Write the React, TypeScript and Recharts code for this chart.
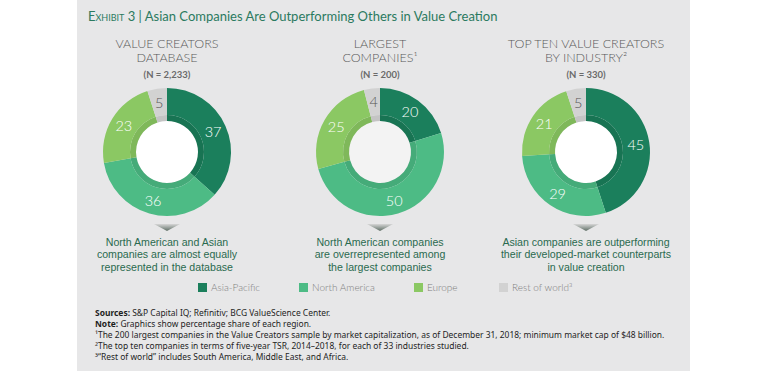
import React from 'react';
import { PieChart, Pie, Cell } from 'recharts';

// Region order, clockwise from 12 o'clock
const regions = ['Asia-Pacific', 'North America', 'Europe', 'Rest of world³'];
const valueCreators = [37, 36, 23, 5];
const largestCompanies = [20, 50, 25, 4];
const topTenByIndustry = [45, 29, 21, 5];

const panelTitles = [
  ['VALUE CREATORS', 'DATABASE'],
  ['LARGEST', 'COMPANIES¹'],
  ['TOP TEN VALUE CREATORS', 'BY INDUSTRY²'],
];
const sampleSizes = ['(N = 2,233)', '(N = 200)', '(N = 330)'];
const takeaways = [
  ['North American and Asian', 'companies are almost equally', 'represented in the database'],
  ['North American companies', 'are overrepresented among', 'the largest companies'],
  ['Asian companies are outperforming', 'their developed-market counterparts', 'in value creation'],
];
const footnotes = [
  '¹The 200 largest companies in the Value Creators sample by market capitalization, as of December 31, 2018; minimum market cap of $48 billion.',
  '²The top ten companies in terms of five-year TSR, 2014–2018, for each of 33 industries studied.',
  '³“Rest of world” includes South America, Middle East, and Africa.',
];

const COLORS = ['#1b7f5c', '#4dbb85', '#8bc863', '#d2d2d2'];
const INNER_COLORS = ['#187453', '#45ab79', '#7fb85a', '#c4c4c4'];
const CENTERS = [167, 380, 586];
const LEGEND_X = [198, 299, 414, 499];
const CY = 152;
const RADIAN = Math.PI / 180;

const toRows = (values: number[]) => values.map((v, i) => ({ name: regions[i], value: v }));
const donuts = [valueCreators, largestCompanies, topTenByIndustry].map(toRows);

const renderLabel = (props: any) => {
  const { cx, cy, midAngle, value, index } = props;
  const r = 50.5;
  const x = cx + r * Math.cos(-midAngle * RADIAN);
  const y = cy + r * Math.sin(-midAngle * RADIAN);
  return (
    <text
      x={x}
      y={y}
      textAnchor="middle"
      dominantBaseline="central"
      fontFamily="Lato"
      fontWeight={300}
      fontSize={14.5}
      fill={index === 3 ? '#555' : '#fff'}
    >
      {value}
    </text>
  );
};

export default function App() {
  return (
    <div style={{ position: 'absolute', left: 0, top: 0, width: 768, height: 371, background: '#fff', overflow: 'hidden' }}>
      <div style={{ position: 'absolute', left: 77, top: 0, width: 613, height: 371, background: '#e7e7e8' }} />

      {/* exhibit title */}
      <div style={{ position: 'absolute', left: 88, top: 8, fontFamily: 'Lato', fontSize: 13, color: '#2b7a5f', whiteSpace: 'nowrap' }}>
        <span style={{ fontVariant: 'small-caps' }}>Exhibit 3</span> | Asian Companies Are Outperforming Others in Value Creation
      </div>

      {CENTERS.map((cx, i) => (
        <React.Fragment key={i}>
          <div style={{ position: 'absolute', left: cx - 130, width: 260, top: 37, textAlign: 'center', fontFamily: 'Lato', fontWeight: 300, fontSize: 12.5, lineHeight: '14px', color: '#5a5a5a' }}>
            {panelTitles[i][0]}<br />{panelTitles[i][1]}
          </div>
          <div style={{ position: 'absolute', left: cx - 100, width: 200, top: 69, textAlign: 'center', fontFamily: 'Lato', fontWeight: 700, fontSize: 9.5, color: '#6a6a6a' }}>
            {sampleSizes[i]}
          </div>
          <div style={{ position: 'absolute', left: cx - 31, top: CY - 31, width: 62, height: 62, borderRadius: '50%', background: i === 1 ? '#f3f3f3' : '#fff' }} />
          <div style={{ position: 'absolute', left: cx - 13, top: 224, width: 26, height: 7, clipPath: 'polygon(0 0, 100% 0, 50% 100%)', background: 'linear-gradient(#d6d6d6, #5f6f66)' }} />
          <div style={{ position: 'absolute', left: cx - 110, width: 220, top: 236, textAlign: 'center', fontFamily: 'Liberation Sans', fontWeight: 400, fontSize: 10.6, lineHeight: '12.3px', color: '#2a6a4f' }}>
            {takeaways[i].map((l, j) => <div key={j}>{l}</div>)}
          </div>
        </React.Fragment>
      ))}

      <div style={{ position: 'absolute', left: 0, top: 0 }}>
        <PieChart width={768} height={371} margin={{ top: 0, right: 0, bottom: 0, left: 0 }}>
          {donuts.map((rows, i) => (
            <Pie
              key={'ring' + i}
              data={rows}
              dataKey="value"
              cx={CENTERS[i]}
              cy={CY}
              innerRadius={31}
              outerRadius={37}
              startAngle={90}
              endAngle={-270}
              stroke="none"
              isAnimationActive={false}
            >
              {rows.map((_, j) => <Cell key={j} fill={INNER_COLORS[j]} />)}
            </Pie>
          ))}
          {donuts.map((rows, i) => (
            <Pie
              key={'main' + i}
              data={rows}
              dataKey="value"
              cx={CENTERS[i]}
              cy={CY}
              innerRadius={37}
              outerRadius={64}
              startAngle={90}
              endAngle={-270}
              stroke="none"
              label={renderLabel}
              labelLine={false}
              isAnimationActive={false}
            >
              {rows.map((_, j) => <Cell key={j} fill={COLORS[j]} />)}
            </Pie>
          ))}
        </PieChart>
      </div>

      {/* legend */}
      {regions.map((r, i) => (
        <div key={r} style={{ position: 'absolute', left: LEGEND_X[i], top: 281, display: 'flex', alignItems: 'center', fontFamily: 'Lato', fontWeight: 300, fontSize: 10, color: '#808080', whiteSpace: 'nowrap' }}>
          <div style={{ width: 9, height: 9, background: COLORS[i], marginRight: 4 }} />
          <span>{r}</span>
        </div>
      ))}

      {/* sources and notes */}
      <div style={{ position: 'absolute', left: 95, top: 307, fontFamily: 'Noto Sans', fontSize: 8.45, lineHeight: '11px', color: '#1e1e1e', whiteSpace: 'nowrap' }}>
        <div><b>Sources:</b> S&amp;P Capital IQ; Refinitiv; BCG ValueScience Center.</div>
        <div><b>Note:</b> Graphics show percentage share of each region.</div>
        {footnotes.map((f, i) => <div key={i}>{f}</div>)}
      </div>
    </div>
  );
}
